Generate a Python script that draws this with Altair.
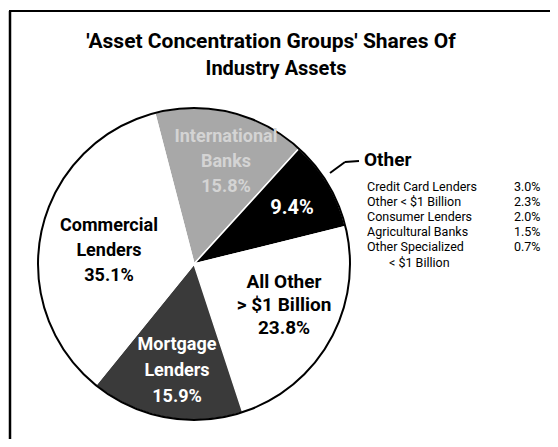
import math
import altair as alt
import pandas as pd

# ---- data ----
slice_names = ["International Banks", "Other", "All Other > $1 Billion", "Mortgage Lenders", "Commercial Lenders"]
slice_values = [15.8, 9.4, 23.8, 15.9, 35.1]
slice_colors = ["#a8a8a8", "#000000", "#ffffff", "#3a3a3a", "#ffffff"]

other_names = ["Credit Card Lenders", "Other < $1 Billion", "Consumer Lenders",
               "Agricultural Banks", "Other Specialized"]
other_name_cont = ["", "", "", "", "< $1 Billion"]
other_values = [3.0, 2.3, 2.0, 1.5, 0.7]

title_lines = ["'Asset Concentration Groups' Shares Of", "Industry Assets"]

FONT = "Roboto, 'Liberation Sans', sans-serif"

pie_df = pd.DataFrame({
    "name": slice_names,
    "value": slice_values,
    "order": list(range(len(slice_names))),
})

CX, CY, R = 185, 256, 156
start = math.radians(345.4)

pie = alt.Chart(pie_df).mark_arc(radius=R, stroke="white", strokeWidth=1.5).encode(
    theta=alt.Theta("value:Q", stack=True, scale=alt.Scale(range=[start, start + 2 * math.pi])),
    order=alt.Order("order:Q"),
    color=alt.Color("name:N", scale=alt.Scale(domain=slice_names, range=slice_colors), legend=None),
    x=alt.value(CX),
    y=alt.value(CY),
)

outline = alt.Chart(pd.DataFrame({"k": [0]})).mark_arc(
    radius=R, theta=0, theta2=2 * math.pi, fillOpacity=0, stroke="black", strokeWidth=2
).encode(x=alt.value(CX), y=alt.value(CY))


def label(lines, x, y, color="black", size=19, lh=25, align="center", baseline="middle", weight="bold"):
    return alt.Chart(pd.DataFrame({"k": [0]})).mark_text(
        font=FONT, fontSize=size, fontWeight=weight, color=color, lineHeight=lh,
        align=align, baseline=baseline,
    ).encode(x=alt.value(x), y=alt.value(y), text=alt.value(lines))


def pct(v):
    return f"{v:.1f}%"


layers = [pie, outline]
layers.append(label([title_lines[0]], 262, 34, size=21))
layers.append(label([title_lines[1]], 267, 61, size=20))
layers.append(label(["Commercial", "Lenders", pct(slice_values[4])], 100, 218, size=18))
layers.append(label([pct(slice_values[1])], 283, 200, color="white", size=20))
layers.append(label(["All Other", "> $1 Billion", pct(slice_values[2])], 275, 274, lh=23, size=19))
layers.append(label(["Mortgage", "Lenders", pct(slice_values[3])], 168, 337, color="white", lh=26, size=18))
layers.append(label(["International", "Banks", pct(slice_values[0])], 217, 129, color="#d4d4d4", lh=25, size=18))
layers.append(label(["Other"], 355, 152, size=19, align="left"))

# leader line from the black slice to the "Other" header
layers.append(alt.Chart(pd.DataFrame({"k": [0]})).mark_rule(color="black", strokeWidth=2).encode(
    x=alt.value(321), y=alt.value(165), x2=alt.value(336), y2=alt.value(154)))
layers.append(alt.Chart(pd.DataFrame({"k": [0]})).mark_rule(color="black", strokeWidth=2).encode(
    x=alt.value(336), y=alt.value(154), x2=alt.value(350), y2=alt.value(153)))

# frame (top and left edges)
layers.append(alt.Chart(pd.DataFrame({"k": [0]})).mark_rule(color="black", strokeWidth=2).encode(
    x=alt.value(0), y=alt.value(3), x2=alt.value(550), y2=alt.value(3)))
layers.append(alt.Chart(pd.DataFrame({"k": [0]})).mark_rule(color="black", strokeWidth=2.5).encode(
    x=alt.value(1), y=alt.value(3), x2=alt.value(1), y2=alt.value(439)))

# "Other" breakdown list
other_df = pd.DataFrame({
    "name": other_names,
    "cont": other_name_cont,
    "value": [pct(v) for v in other_values],
    "row": list(range(len(other_names))),
})
rows_y = alt.Y("row:Q", scale=alt.Scale(domain=[0, 4], range=[173, 233]), axis=None)
names_layer = alt.Chart(other_df).mark_text(
    font=FONT, fontSize=12.5, align="left", baseline="top", color="black"
).encode(x=alt.value(358), y=rows_y, text="name:N")
cont_layer = alt.Chart(other_df).mark_text(
    font=FONT, fontSize=12.5, align="left", baseline="top", color="black", dy=16
).encode(x=alt.value(380), y=rows_y, text="cont:N")
vals_layer = alt.Chart(other_df).mark_text(
    font=FONT, fontSize=12.5, align="left", baseline="top", color="black"
).encode(x=alt.value(505), y=rows_y, text="value:N")
layers += [names_layer, cont_layer, vals_layer]

chart = alt.layer(*layers).properties(
    width=542, height=431,
    autosize=alt.AutoSizeParams(type="fit", contains="padding"),
    padding=0,
).configure_view(stroke=None).resolve_scale(y="independent")

chart.save("out.html", embed_options={"renderer": "svg", "actions": False})
